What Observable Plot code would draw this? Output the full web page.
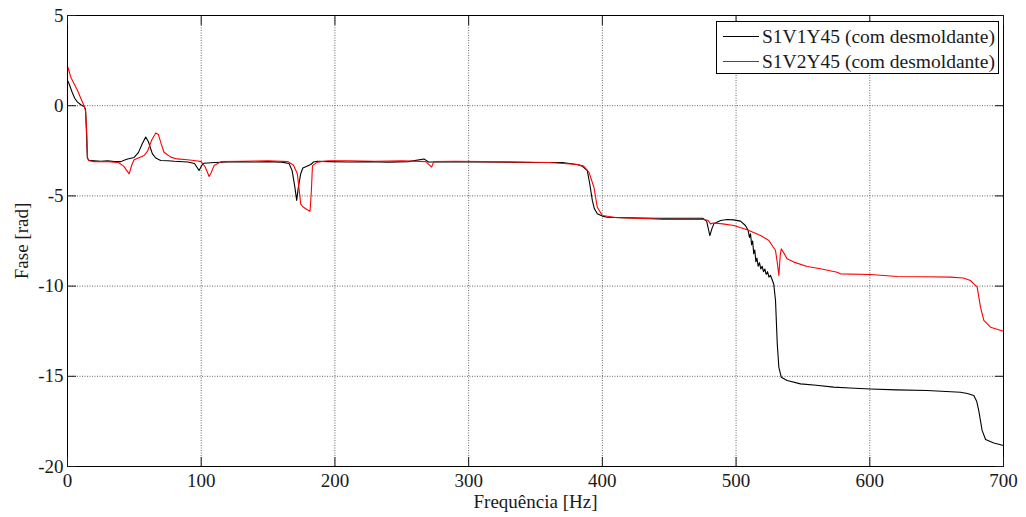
<!DOCTYPE html>
<html>
<head>
<meta charset="utf-8">
<script src="https://cdn.jsdelivr.net/npm/d3@7"></script>
<script src="https://cdn.jsdelivr.net/npm/@observablehq/plot@0.6"></script>
<style>
  html, body { margin: 0; padding: 0; background: #fff; }
  #chart { width: 1026px; height: 517px; }
  #chart svg text { font-family: 'Liberation Serif', 'Times New Roman', serif; }
</style>
</head>
<body>
<div id="chart"></div>
<script>
// Series names
const seriesNames = ["S1V1Y45 (com desmoldante)", "S1V2Y45 (com desmoldante)"];
const seriesColors = ["#000000", "#ff0000"];

// Tick labels
const xTicks = [0, 100, 200, 300, 400, 500, 600, 700];
const yTicks = [5, 0, -5, -10, -15, -20];

// Series 1 (black): frequency [Hz] and phase [rad]
const freqBlack = [0.5,2,3.7,5.5,7.5,10,12.4,13.5,14.2,14.8,16,20,25,30,35,40,42.3,45,49.8,53,56,58.5,60.5,63.5,66,69.7,75,80,90,95,98.4,100.5,102,110,120,130,140,150,160,165.7,168,170,171.4,172.5,174.4,176,179,181.9,184,186.9,195,210,225,240,255,266.6,270,290,310,330,350,370,381.2,385,388.7,390.5,392.5,394,396.2,400,403.7,420,440,460,475,478,480.4,482,483.4,488.4,493.4,498,503.3,507,509,510,510.8,511.6,512.4,513.2,514,514.8,515.6,516.5,517.5,518.5,519.5,520.5,521.5,522.5,523.5,524.6,525.7,527,528.2,529.5,530.8,532,533.8,538.2,548.2,560,573,585,600.5,620,642.9,667.8,673,677.8,680,681.5,684,686.6,692.8,700];
const phaseBlack = [1.35,1.05,0.7,0.4,0.2,0.05,-0.04,-0.2,-1.5,-2.9,-3.02,-3.05,-3.08,-3.05,-3.1,-3.1,-3.02,-2.95,-2.87,-2.6,-2.1,-1.74,-2.0,-2.67,-2.9,-3.04,-3.05,-3.08,-3.12,-3.2,-3.59,-3.3,-3.19,-3.15,-3.12,-3.1,-3.12,-3.1,-3.13,-3.2,-3.6,-4.5,-5.25,-4.6,-3.77,-3.45,-3.35,-3.26,-3.12,-3.08,-3.1,-3.12,-3.1,-3.13,-3.1,-2.95,-3.12,-3.12,-3.12,-3.13,-3.15,-3.15,-3.26,-3.35,-3.59,-4.3,-5.25,-5.7,-5.99,-6.12,-6.18,-6.22,-6.24,-6.24,-6.24,-6.4,-7.2,-6.8,-6.55,-6.36,-6.31,-6.33,-6.4,-6.64,-6.9,-7.3,-7.1,-7.7,-7.5,-8.2,-8.0,-8.65,-8.45,-8.9,-8.7,-9.05,-8.9,-9.2,-9.05,-9.35,-9.2,-9.5,-9.4,-9.65,-9.9,-10.8,-13.2,-14.5,-15.05,-15.23,-15.42,-15.5,-15.6,-15.65,-15.7,-15.75,-15.79,-15.88,-15.95,-16.06,-16.4,-16.9,-18.0,-18.5,-18.7,-18.84];

// Series 2 (red): frequency [Hz] and phase [rad]
const freqRed = [0,0,1,2.5,5,7.5,10,12.4,13.5,14.4,15,16,20,30,38,42,46.1,48,49.8,53,57.3,60,63,66,68,70,72.2,77.2,82,89.7,96,100,103,105.9,107.5,109.6,115,130,150,165,169,171.9,174.4,176,179,181.4,182.4,183.2,186.9,195,210,230,250,268,272.3,274,290,310,330,360,381.2,386,390,393.7,396.2,400,410,430,446,460,475,479,480.9,483,490,498.3,508.3,518.3,524.5,529.5,531,532,533,533.8,536,538.2,543.2,553.2,563.1,575.6,578.1,600.5,620.5,640,660.4,670,675.3,680.3,682.8,685.3,690.3,700];
const phaseRed = [0,2.2,1.95,1.58,1.2,0.84,0.4,0.0,-0.3,-1.5,-2.9,-3.05,-3.1,-3.1,-3.15,-3.35,-3.78,-3.3,-3.0,-2.9,-2.76,-2.5,-1.9,-1.51,-1.6,-2.1,-2.58,-2.85,-2.95,-3.0,-3.05,-3.1,-3.4,-3.92,-3.7,-3.32,-3.1,-3.08,-3.05,-3.1,-3.3,-3.77,-5.44,-5.6,-5.75,-5.85,-4.7,-3.32,-3.13,-3.05,-3.05,-3.08,-3.05,-3.1,-3.4,-3.1,-3.08,-3.1,-3.12,-3.15,-3.26,-3.35,-3.7,-4.52,-5.63,-6.09,-6.2,-6.25,-6.31,-6.3,-6.31,-6.35,-6.55,-6.5,-6.55,-6.64,-6.88,-7.2,-7.47,-8.03,-8.8,-9.41,-8.3,-7.93,-8.2,-8.49,-8.67,-8.91,-9.04,-9.23,-9.32,-9.36,-9.47,-9.48,-9.5,-9.55,-9.69,-10.06,-11.17,-11.9,-12.28,-12.5];

const xLabel = "Frequência [Hz]";
const yLabel = "Fase [rad]";

const rows = [
  ...freqBlack.map((f, i) => ({f, v: phaseBlack[i], s: seriesNames[0]})),
  ...freqRed.map((f, i) => ({f, v: phaseRed[i], s: seriesNames[1]}))
];

const font = "'Liberation Serif', 'Times New Roman', serif";
const gridStyle = {stroke: "#666", strokeOpacity: 1, strokeDasharray: "1,1.5", strokeWidth: 1};
const fmt = d => String(d);

const chart = Plot.plot({
  width: 1026,
  height: 517,
  marginTop: 15,
  marginRight: 23,
  marginBottom: 51,
  marginLeft: 67,
  style: {fontFamily: font, fontSize: "19px", color: "#1a1a1a", background: "#fff"},
  x: {domain: [0, 700]},
  y: {domain: [-20, 5]},
  color: {domain: seriesNames, range: seriesColors},
  marks: [
    Plot.gridX(xTicks.slice(1, -1), gridStyle),
    Plot.gridY(yTicks.slice(1, -1), gridStyle),
    Plot.line(rows, {x: "f", y: "v", z: "s", stroke: "s", strokeWidth: 1.1, curve: "linear"}),
    Plot.frame({stroke: "#000", strokeWidth: 1}),
    Plot.axisX(xTicks, {anchor: "bottom", tickSize: -9, tickPadding: 16, tickFormat: fmt, label: xLabel, labelAnchor: "center", labelArrow: "none", labelOffset: 41, fontSize: 19, fontFamily: font}),
    Plot.axisX(xTicks, {anchor: "top", tickSize: -9, text: null, label: null}),
    Plot.axisY(yTicks, {anchor: "left", tickSize: -9, tickPadding: 13, tickFormat: fmt, label: yLabel, labelAnchor: "center", labelArrow: "none", labelOffset: 53, fontSize: 19, fontFamily: font}),
    Plot.axisY(yTicks, {anchor: "right", tickSize: -9, text: null, label: null})
  ]
});

document.getElementById("chart").appendChild(chart);

// Legend drawn inside the plot SVG (top right)
const svg = d3.select(chart);
const lg = svg.append("g").attr("font-family", font).attr("font-size", 19.5).attr("text-anchor", "start");
lg.append("rect").attr("x", 716.5).attr("y", 21.5).attr("width", 282).attr("height", 52)
  .attr("fill", "#fff").attr("stroke", "#000").attr("stroke-width", 1);
seriesNames.forEach((name, i) => {
  const y = 36.5 + i * 25;
  lg.append("line").attr("x1", 723).attr("x2", 759).attr("y1", y).attr("y2", y)
    .attr("stroke", seriesColors[i]).attr("stroke-width", 1);
  lg.append("text").attr("x", 762).attr("y", y).attr("dy", "0.35em")
    .attr("text-anchor", "start").attr("fill", "#1a1a1a").text(name);
});
</script>
</body>
</html>
